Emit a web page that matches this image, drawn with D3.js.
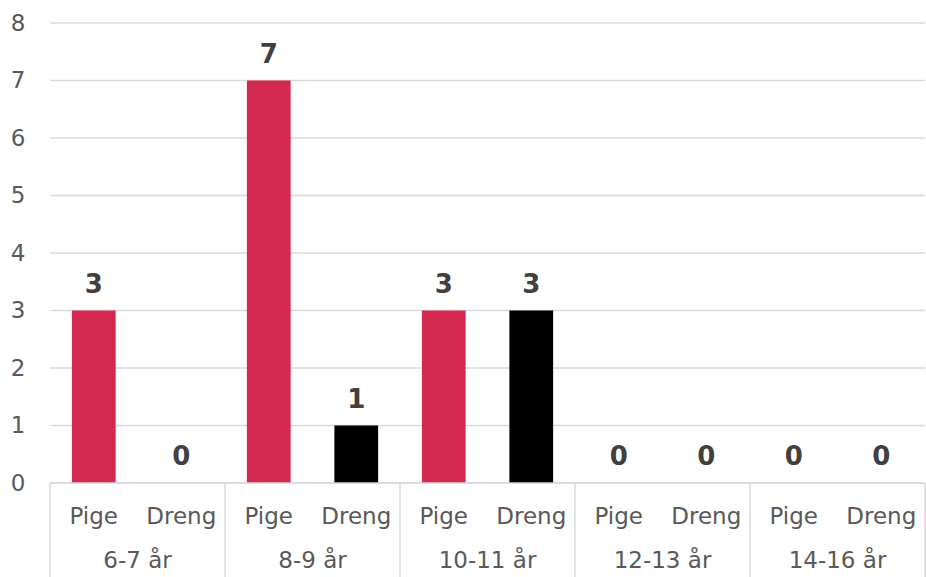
<!DOCTYPE html>
<html>
<head>
<meta charset="utf-8">
<script src="https://cdn.jsdelivr.net/npm/d3@7"></script>
<style>
  body { margin: 0; background: #fff; }
  svg { display: block; font-family: "DejaVu Sans", Verdana, sans-serif; }
</style>
</head>
<body>
<svg id="chart" width="926" height="577"></svg>
<script>
var groups = ["6-7 år", "8-9 år", "10-11 år", "12-13 år", "14-16 år"];
var genders = ["Pige", "Dreng"];
var pigeValues = [3, 7, 3, 0, 0];
var drengValues = [0, 1, 3, 0, 0];
var yTicks = [0, 1, 2, 3, 4, 5, 6, 7, 8];

var colors = { "Pige": "#D3284F", "Dreng": "#000000" };
var fontFamily = "'DejaVu Sans', Verdana, sans-serif";

var svg = d3.select("#chart");
var margin = { top: 23, right: 1, bottom: 94, left: 50 };
var width = +svg.attr("width") - margin.left - margin.right;
var height = +svg.attr("height") - margin.top - margin.bottom;

var g = svg.append("g").attr("transform", "translate(" + margin.left + "," + margin.top + ")");

var x0 = d3.scaleBand().domain(groups).range([0, width]);
var x1 = d3.scaleBand().domain(genders).range([0, x0.bandwidth()]).paddingInner(0.5).paddingOuter(0.25);
var y = d3.scaleLinear().domain([0, 8]).range([height, 0]);

// gridlines
g.append("g")
    .selectAll("line")
    .data(yTicks)
    .enter().append("line")
    .attr("x1", 0)
    .attr("x2", width)
    .attr("y1", function (d) { return y(d); })
    .attr("y2", function (d) { return y(d); })
    .attr("stroke", "#D9D9D9")
    .attr("stroke-width", 1.5);

// y axis labels
var yAxis = g.append("g")
    .call(d3.axisLeft(y).tickValues(yTicks).tickSize(0).tickPadding(32))
    .attr("font-size", 23)
    .attr("font-family", fontFamily);
yAxis.select(".domain").remove();
yAxis.selectAll("text")
    .attr("fill", "#595959")
    .attr("text-anchor", "middle");

var data = groups.map(function (grp, i) {
    return [
        { group: grp, gender: "Pige", value: pigeValues[i] },
        { group: grp, gender: "Dreng", value: drengValues[i] }
    ];
});

var grp = g.selectAll(".grp")
    .data(data)
    .enter().append("g")
    .attr("class", "grp")
    .attr("transform", function (d) { return "translate(" + x0(d[0].group) + ",0)"; });

grp.selectAll("rect")
    .data(function (d) { return d; })
    .enter().append("rect")
    .attr("x", function (d) { return x1(d.gender); })
    .attr("width", x1.bandwidth())
    .attr("y", function (d) { return y(d.value); })
    .attr("height", function (d) { return height - y(d.value); })
    .attr("fill", function (d) { return colors[d.gender]; });

grp.selectAll(".val")
    .data(function (d) { return d; })
    .enter().append("text")
    .attr("class", "val")
    .attr("x", function (d) { return x1(d.gender) + x1.bandwidth() / 2; })
    .attr("y", function (d) { return y(d.value) - 18; })
    .attr("text-anchor", "middle")
    .attr("fill", "#404040")
    .style("font-size", "26px")
    .style("font-weight", "bold")
    .text(function (d) { return d.value; });

// category axis
var axis = g.append("g").attr("transform", "translate(0," + height + ")");
axis.append("line")
    .attr("x1", 0).attr("x2", width)
    .attr("stroke", "#D9D9D9").attr("stroke-width", 1.5);
axis.selectAll(".sep")
    .data(groups.map(function (d) { return x0(d); }).concat([width]))
    .enter().append("line")
    .attr("class", "sep")
    .attr("x1", function (d) { return d; })
    .attr("x2", function (d) { return d; })
    .attr("y1", 0).attr("y2", margin.bottom)
    .attr("stroke", "#D9D9D9").attr("stroke-width", 1.5);

groups.forEach(function (grpName) {
    genders.forEach(function (gen) {
        axis.append("text")
            .attr("x", x0(grpName) + x1(gen) + x1.bandwidth() / 2)
            .attr("y", 41)
            .attr("text-anchor", "middle")
            .attr("fill", "#595959")
            .style("font-size", "23px")
            .text(gen);
    });
    axis.append("text")
        .attr("x", x0(grpName) + x0.bandwidth() / 2)
        .attr("y", 85)
        .attr("text-anchor", "middle")
        .attr("fill", "#595959")
        .style("font-size", "23px")
        .text(grpName);
});
</script>
</body>
</html>
